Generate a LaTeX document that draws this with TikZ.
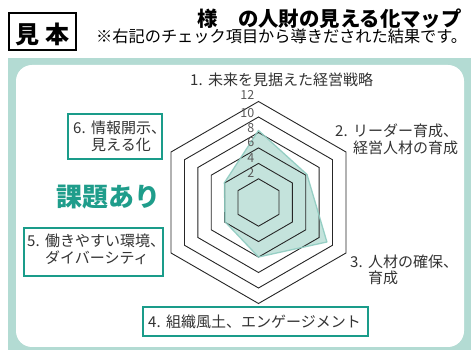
\documentclass[tikz,border=0pt]{standalone}
\usepackage{fontspec}
\setmainfont{Noto Sans CJK JP}
\definecolor{panel}{HTML}{B3DBD3}
\definecolor{boxteal}{HTML}{1A9C8A}
\definecolor{headteal}{HTML}{1F9D8B}
\definecolor{datafill}{HTML}{C4E3DC}
\definecolor{datastroke}{HTML}{8FCCC1}
\definecolor{ink}{HTML}{333333}
\definecolor{tick}{HTML}{5A5A5A}
\begin{document}
\begin{tikzpicture}[x=1pt,y=1pt,
  txt/.style={inner sep=0pt, anchor=base west, text=ink, font=\fontsize{15pt}{18pt}\selectfont},
  ticklbl/.style={inner sep=0pt, anchor=base east, text=tick, font=\fontsize{12.5pt}{14pt}\selectfont},
  grid/.style={draw=black!85, line width=0.9pt, line join=miter},
  tealbox/.style={draw=boxteal, line width=2.4pt, fill=white},
  blackbox/.style={draw=black, line width=1.8pt, fill=white}]
\useasboundingbox (0,0) rectangle (471,350);
\fill[white] (0,0) rectangle (471,350);
% panel
\fill[panel] (8,0) rectangle (471,292);
\fill[white, rounded corners=16pt] (16,3) rectangle (464,285);
% header
\draw[blackbox] (9,300) rectangle (76,337);
\node[inner sep=0pt, anchor=base, font=\bfseries\fontsize{24pt}{28pt}\selectfont] (mihon) at (42.5,306.9) {見\hspace{7pt}本};
\node[inner sep=0pt, anchor=base west, font=\bfseries\fontsize{20.4pt}{24pt}\selectfont] (title) at (197,323.5) {様　の人財の見える化マップ};
\node[inner sep=0pt, anchor=base west, font=\fontsize{16.2pt}{19pt}\selectfont] (sub) at (96,307.5) {※右記のチェック項目から導きだされた結果です。};
% radar chart
\begin{scope}[shift={(258.5,147.5)}]
  \fill[datafill] (90:72) -- (30:56) -- (-30:79) -- (-90:54.5) -- (-150:38.6) -- (150:39.4) -- cycle;
  \foreach \r in {23.7,39.1,54.6,70.0,85.5,101.0}
    \draw[grid] (90:\r) -- (30:\r) -- (-30:\r) -- (-90:\r) -- (-150:\r) -- (150:\r) -- cycle;
  \draw[datastroke, line width=1.3pt, line join=round, opacity=0.9] (90:72) -- (30:56) -- (-30:79) -- (-90:54.5) -- (-150:38.6) -- (150:39.4) -- cycle;
\end{scope}
\node[ticklbl] (t12) at (254.5,250.6) {12};
\node[ticklbl] (t10) at (254.5,232.6) {10};
\node[ticklbl] (t8) at (254.5,217.6) {8};
\node[ticklbl] (t6) at (254.5,203.6) {6};
\node[ticklbl] (t4) at (254.5,187.6) {4};
\node[ticklbl] (t2) at (254.5,172.6) {2};
% boxes
\draw[tealbox] (68.2,191.2) rectangle (161.8,235.8);
\draw[tealbox] (24.2,74.2) rectangle (162.8,121.8);
\draw[tealbox] (143.2,14.2) rectangle (367.8,42.8);
% labels
\node[txt] (n1) at (190,264.3) {1.};
\node[txt] (l1) at (208,264.3) {未来を見据えた経営戦略};
\node[txt] (n2) at (335,213.3) {2.};
\node[txt] (l2a) at (353,213.3) {リーダー育成、};
\node[txt] (l2b) at (353,196.3) {経営人材の育成};
\node[txt] (n3) at (350,82.8) {3.};
\node[txt] (l3a) at (368,82.8) {人材の確保、};
\node[txt] (l3b) at (368,66.3) {育成};
\node[txt] (n4) at (148,22.8) {4.};
\node[txt] (l4) at (166,22.8) {組織風土、エンゲージメント};
\node[txt] (n5) at (27,103.3) {5.};
\node[txt] (l5a) at (45,103.3) {働きやすい環境、};
\node[txt] (l5b) at (45,86.3) {ダイバーシティ};
\node[txt] (n6) at (73,216.3) {6.};
\node[txt] (l6a) at (91,216.3) {情報開示、};
\node[txt] (l6b) at (91,199.3) {見える化};
\node[inner sep=0pt, anchor=base, text=headteal, font=\bfseries\fontsize{26pt}{30pt}\selectfont] (kadai) at (108.5,143.6) {課題あり};
\end{tikzpicture}
\end{document}
